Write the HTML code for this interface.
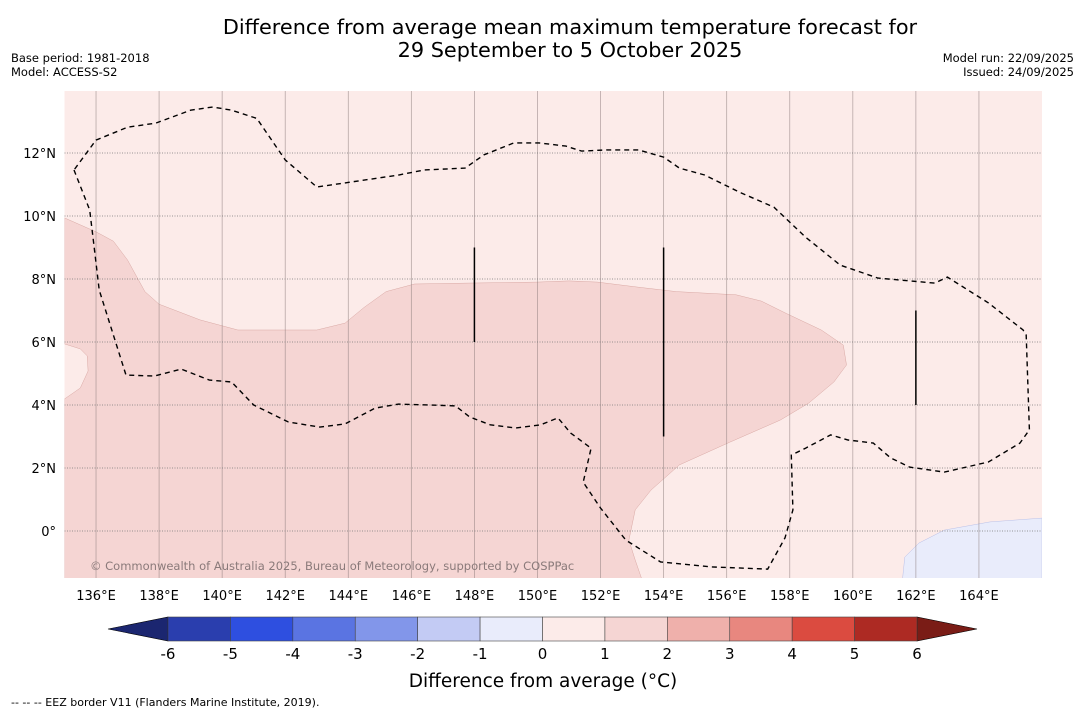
<!DOCTYPE html>
<html><head><meta charset="utf-8">
<style>
body{margin:0;background:#fff;width:1085px;height:713px;overflow:hidden;font-family:"Liberation Sans","DejaVu Sans",sans-serif}
</style></head>
<body>
<svg id="chart" width="1085" height="713" viewBox="0 0 1085 713" xmlns="http://www.w3.org/2000/svg" font-family="DejaVu Sans, Liberation Sans, sans-serif">
<text x="570" y="34" text-anchor="middle" font-size="20.8">Difference from average mean maximum temperature forecast for</text>
<text x="570" y="57" text-anchor="middle" font-size="20.8">29 September to 5 October 2025</text>
<text x="11" y="62" font-size="11.5">Base period: 1981-2018</text>
<text x="11" y="76" font-size="11.5">Model: ACCESS-S2</text>
<text x="1074" y="62" font-size="11.5" text-anchor="end">Model run: 22/09/2025</text>
<text x="1074" y="76" font-size="11.5" text-anchor="end">Issued: 24/09/2025</text>
<g id="map"></g>
<g id="cbar"></g>
<text x="543" y="687" text-anchor="middle" font-size="18.5">Difference from average (°C)</text>
<text x="11" y="706" font-size="11">--  --  -- EEZ border V11 (Flanders Marine Institute, 2019).</text>
</svg>
<script>
const lonTicks=[136,138,140,142,144,146,148,150,152,154,156,158,160,162,164];
const latTicks=[0,2,4,6,8,10,12];
const cbarLevels=[-6,-5,-4,-3,-2,-1,0,1,2,3,4,5,6];
const cbarColors=["#2a3eae","#2e4fe0","#5a74e2","#8296ea","#c3cbf4","#e9ecfb","#fcebe9","#f5d5d3","#efb0ab","#e8877f","#db4b40","#ad2a23"];
// region with +1 to +2 anomaly [lon,lat]
const warmRegion=[[135,9.94],[136,9.5],[136.55,9.2],[137,8.6],[137.55,7.6],[138,7.2],[139.3,6.7],[140.5,6.38],[143,6.38],[143.9,6.6],[144.5,7.1],[145.2,7.6],[146.1,7.84],[147.8,7.87],[150,7.9],[151,7.94],[151.9,7.9],[153.2,7.74],[154.4,7.6],[156.3,7.5],[157.1,7.3],[157.9,6.9],[159,6.38],[159.7,5.9],[159.8,5.27],[159.4,4.73],[158.6,4.06],[157.7,3.52],[156.1,2.82],[154.5,2.1],[153.6,1.3],[153.1,0.67],[152.9,-0.29],[153.1,-0.92],[153.3,-1.5],[135,-1.5],[135,4.19],[135.5,4.54],[135.75,5.08],[135.72,5.56],[135.5,5.78],[135,5.94]];
const coolRegion=[[161.58,-1.5],[161.65,-0.83],[162.1,-0.38],[162.9,0.03],[164.35,0.29],[166,0.41],[166,-1.5]];
const eezLine=[[135.3,11.46],[135.8,10.19],[135.95,8.92],[136.1,7.65],[136.5,6.38],[136.95,4.95],[137.85,4.92],[138.7,5.14],[139.6,4.79],[140.3,4.73],[141,4.0],[142.1,3.46],[143.1,3.3],[143.9,3.4],[144.85,3.9],[145.6,4.03],[146.6,4.0],[147.4,3.97],[147.85,3.62],[148.5,3.37],[149.3,3.27],[150.1,3.37],[150.65,3.59],[151.05,3.11],[151.7,2.63],[151.45,1.55],[152,0.73],[152.8,-0.29],[153.9,-0.98],[155.5,-1.14],[157.3,-1.21],[157.85,-0.22],[158.1,0.67],[158.05,2.41],[158.5,2.63],[159.3,3.05],[159.85,2.89],[160.65,2.79],[161.2,2.32],[161.8,2.03],[162.9,1.87],[164.3,2.19],[165.3,2.79],[165.6,3.21],[165.5,6.22],[165.4,6.38],[164.3,7.24],[163,8.06],[162.6,7.87],[160.8,8.03],[159.6,8.44],[158.5,9.33],[157.5,10.28],[156.4,10.76],[155.3,11.3],[154.5,11.52],[154,11.87],[153.2,12.1],[152.2,12.1],[151.4,12.06],[150.9,12.22],[150.05,12.32],[149.25,12.32],[148.3,11.94],[147.7,11.52],[146.4,11.46],[145.6,11.3],[143.9,11.05],[143,10.92],[142,11.78],[141.1,13.1],[140.3,13.36],[139.7,13.46],[139,13.36],[137.9,12.95],[137,12.82],[136,12.41],[135.3,11.46]];
const trackLines=[[148,9,6],[154,9,3],[162,7,4]];

const NS="http://www.w3.org/2000/svg";
const X0=64.5,X1=1042,Y0=91,Y1=578,LON0=135,LON1=166;
function xs(lon){return X0+(lon-LON0)*(X1-X0)/(LON1-LON0);}
function ys(lat){return 531-lat*31.5;}
function mk(tag,attrs,parent){const e=document.createElementNS(NS,tag);for(const k in attrs)e.setAttribute(k,attrs[k]);parent.appendChild(e);return e;}
const map=document.getElementById('map');
const defs=mk('defs',{},map);
const cp=mk('clipPath',{id:'mc'},defs);
mk('rect',{x:X0,y:Y0,width:X1-X0,height:Y1-Y0},cp);
let bg=mk('rect',{x:X0,y:Y0,width:X1-X0,height:Y1-Y0,fill:"#fcebe9"},map);


const g=mk('g',{'clip-path':'url(#mc)'},map);
function pts(a){return a.map(p=>xs(p[0]).toFixed(1)+","+ys(p[1]).toFixed(1)).join(" ");}
let w=mk('polygon',{points:pts(warmRegion),fill:"#f5d5d3",stroke:"#d9a8a4","stroke-width":0.5},g);


let c=mk('polygon',{points:pts(coolRegion),fill:"#e9ecfb",stroke:"#b9c0e8","stroke-width":0.5},g);


lonTicks.forEach(l=>{
 let ln=mk('line',{x1:xs(l),x2:xs(l),y1:Y0,y2:Y1,stroke:"#8a7a7a","stroke-width":0.8,opacity:0.6},g);
 
 
 let t=mk('text',{x:xs(l),y:600,'text-anchor':'middle','font-size':13},map);
 t.textContent=l+"°E";
 
 
});
latTicks.forEach(l=>{
 let ln=mk('line',{x1:X0,x2:X1,y1:ys(l),y2:ys(l),stroke:"#777","stroke-width":0.8,"stroke-dasharray":"1,1.5"},g);
 
 
 let t=mk('text',{x:56,y:ys(l)+5,'text-anchor':'end','font-size':13},map);
 t.textContent=l===0?"0°":l+"°N";
 
 
});
let e=mk('polyline',{points:pts(eezLine),fill:"none",stroke:"#000","stroke-width":1.4,"stroke-dasharray":"5,4"},g);


trackLines.forEach(t=>{
 let l=mk('line',{x1:xs(t[0]),x2:xs(t[0]),y1:ys(t[1]),y2:ys(t[2]),stroke:"#000","stroke-width":1.5},g);
 
 
});
let wm=mk('text',{x:90,y:570,'font-size':11.5,fill:"#8a7a7a"},g);
wm.textContent="© Commonwealth of Australia 2025, Bureau of Meteorology, supported by COSPPac";



const cb=document.getElementById('cbar');
const CB0=168,CB1=917,CT=617,CBB=641;
function cx(v){return CB0+(v-cbarLevels[0])*(CB1-CB0)/(cbarLevels[cbarLevels.length-1]-cbarLevels[0]);}
let lt=mk('polygon',{points:`108,629 ${CB0},${CT} ${CB0},${CBB}`,fill:"#1b2670",stroke:"#000","stroke-width":0.6},cb);


let rt=mk('polygon',{points:`977,629 ${CB1},${CT} ${CB1},${CBB}`,fill:"#7a1c16",stroke:"#000","stroke-width":0.6},cb);


cbarColors.forEach((col,i)=>{
 let r=mk('rect',{x:cx(cbarLevels[i]),y:CT,width:cx(cbarLevels[i+1])-cx(cbarLevels[i]),height:CBB-CT,fill:col,stroke:"#444","stroke-width":0.6},cb);
 
 
});
cbarLevels.forEach(v=>{
 let t=mk('text',{x:cx(v),y:659,'text-anchor':'middle','font-size':15},cb);
 t.textContent=v;
 
 
});
</script>
</body></html>
